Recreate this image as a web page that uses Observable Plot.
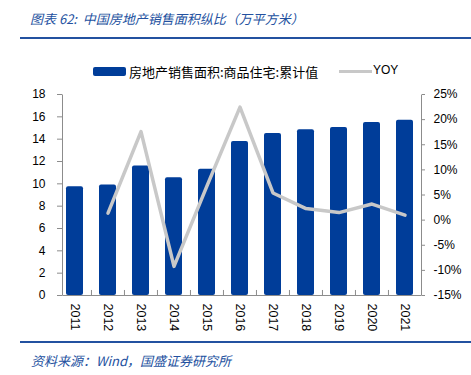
<!DOCTYPE html>
<html>
<head>
<meta charset="utf-8">
<script src="https://cdn.jsdelivr.net/npm/d3@7"></script>
<script src="https://cdn.jsdelivr.net/npm/@observablehq/plot@0.6"></script>
<style>
  body { margin: 0; background: #fff; }
  #wrap { position: relative; width: 471px; height: 375px; overflow: hidden; background: #fff; }
  #chart { position: absolute; left: 0; top: 0; }
  .title { position: absolute; left: 30px; top: 9px; font: italic 13px "Noto Sans CJK SC", sans-serif; color: #2351a0; white-space: nowrap; }
  .hr { position: absolute; left: 20px; right: 0; height: 2px; background: #2351a0; }
  .legend { position: absolute; top: 61px; left: 0; width: 471px; height: 20px; font: 13px "Noto Sans CJK SC", sans-serif; color: #000; }
  .legend .sw { position: absolute; left: 93px; top: 6px; width: 33px; height: 9px; background: #003d99; border-radius: 2px; }
  .legend .t1 { position: absolute; left: 129px; top: 1px; white-space: nowrap; }
  .legend .ln { position: absolute; left: 339px; top: 9px; width: 33px; height: 3px; background: #c8c8c8; }
  .legend .t2 { position: absolute; left: 373px; top: 2px; font: 12px "Liberation Sans", sans-serif; }
  .source { position: absolute; left: 31px; top: 351px; font: italic 13px "Noto Sans CJK SC", sans-serif; color: #2351a0; white-space: nowrap; }
</style>
</head>
<body>
<div id="wrap">
  <div class="title">图表 62:&nbsp; 中国房地产销售面积纵比（万平方米）</div>
  <div class="hr" style="top:37px"></div>
  <div class="legend">
    <div class="sw"></div><div class="t1">房地产销售面积:商品住宅:累计值</div>
    <div class="ln"></div><div class="t2">YOY</div>
  </div>
  <div id="chart"></div>
  <div class="hr" style="top:341px"></div>
  <div class="source">资料来源：Wind，国盛证券研究所</div>
</div>
<script>
const years = ["2011","2012","2013","2014","2015","2016","2017","2018","2019","2020","2021"];
const area  = [9.75, 9.9, 11.6, 10.55, 11.3, 13.8, 14.5, 14.85, 15.05, 15.5, 15.7];
const yoy   = [null, 1.4, 17.6, -9.2, 6.8, 22.5, 5.4, 2.3, 1.5, 3.2, 1.0];
const leftTicks  = [0, 2, 4, 6, 8, 10, 12, 14, 16, 18];
const rightTicks = [-15, -10, -5, 0, 5, 10, 15, 20, 25];

const rows = years.map((year, i) => ({year, area: area[i], yoy: yoy[i]}));

const W = 471, H = 340, mL = 57, mR = 50, mT = 94, mB = 45;
const pw = W - mL - mR, ph = H - mT - mB;
const step = pw / years.length;
const yMax = 18, rMin = -15, rMax = 25;
const toLeft = v => (v - rMin) * yMax / (rMax - rMin);
const fromLeft = d => Math.round(d * (rMax - rMin) / yMax + rMin);
const axisColor = "#8c8c8c";
const inL = 5;

const plot = Plot.plot({
  width: W, height: H,
  marginTop: mT, marginBottom: mB, marginLeft: mL, marginRight: mR,
  style: {fontFamily: "Liberation Sans, sans-serif", fontSize: "12px", color: "#000", background: "transparent"},
  x: {type: "band", domain: years, paddingInner: 0.5, paddingOuter: 0.25},
  y: {domain: [0, yMax]},
  marks: [
    Plot.barY(rows, {x: "year", y: "area", fill: "#003d99", rx: 2}),
    Plot.frame({stroke: axisColor, insetLeft: inL, strokeDasharray: `0,${pw - inL},${2 * ph + pw - inL}`}),
    Plot.ruleX(years.slice(1), {x: d => d, y1: 0, y2: 0.45, dx: -step / 2, stroke: axisColor}),
    Plot.line(rows.filter(d => d.yoy != null), {x: "year", y: d => toLeft(d.yoy), stroke: "#c8c8c8", strokeWidth: 3.5}),
    Plot.axisY(leftTicks, {anchor: "left", tickSize: 5, tickPadding: 12, dx: inL, label: null, stroke: axisColor}),
    Plot.axisY(rightTicks.map(toLeft), {anchor: "right", tickSize: 3, tickPadding: 9, label: null, stroke: axisColor, tickFormat: d => fromLeft(d) + "%"}),
    Plot.axisX(years, {anchor: "bottom", tickRotate: 90, tickSize: 0, tickPadding: 8, label: null, fontSize: 12.5})
  ]
});
document.getElementById("chart").appendChild(plot);
</script>
</body>
</html>
